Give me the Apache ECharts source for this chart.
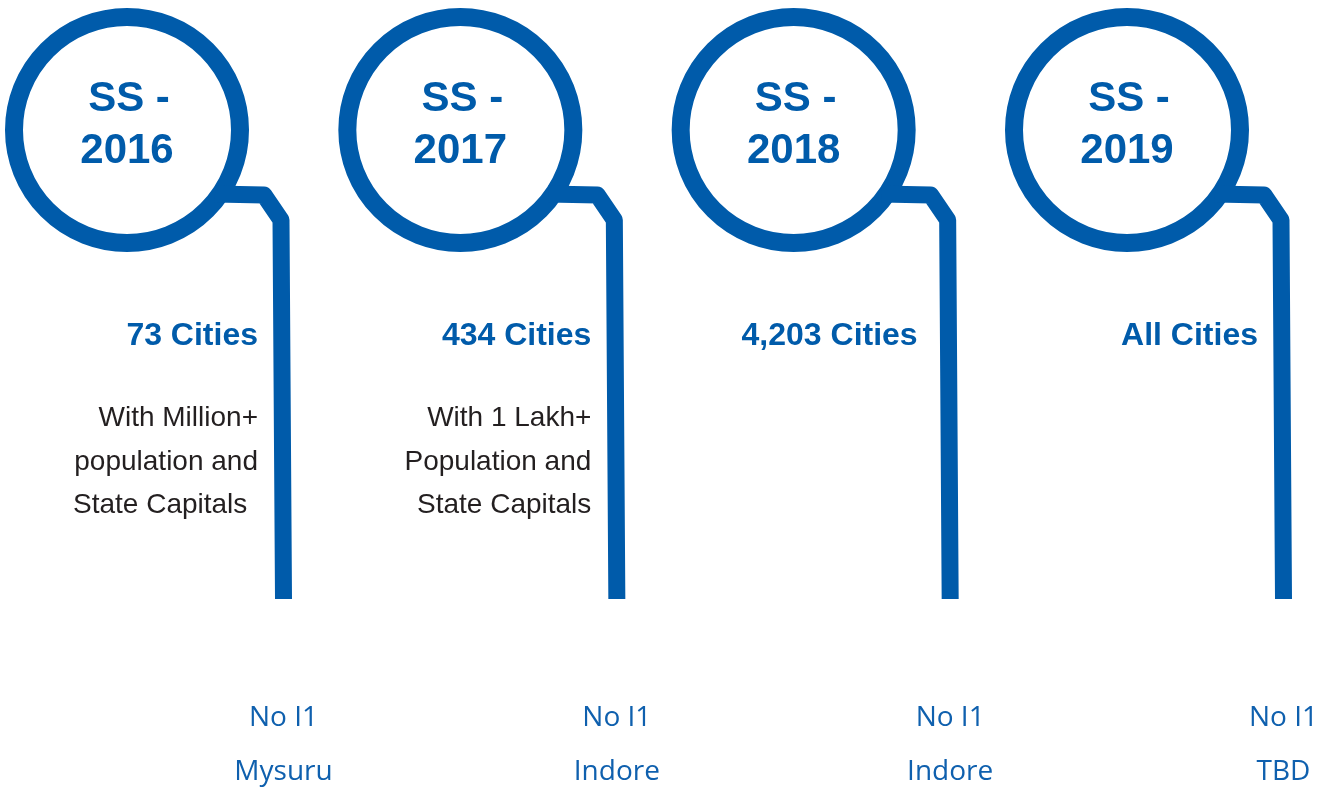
<!DOCTYPE html>
<html>
<head>
<meta charset="utf-8">
<title>Swachh Survekshan timeline</title>
<script src="https://cdn.jsdelivr.net/npm/echarts@6/dist/echarts.min.js"></script>
<style>
  html, body { margin: 0; padding: 0; background: #fff; }
  #chart { width: 1334px; height: 792px; }
</style>
</head>
<body>
<div id="chart"></div>
<script>
// survey editions
const circleTop = ['SS -', 'SS -', 'SS -', 'SS -'];
const years = ['2016', '2017', '2018', '2019'];
const coverage = ['73 Cities', '434 Cities', '4,203 Cities', 'All Cities'];
const criteria = [
  ['With Million+', 'population and', 'State Capitals'],
  ['With 1 Lakh+', 'Population and', 'State Capitals'],
  [],
  []
];
const rankLabel = ['No I1', 'No I1', 'No I1', 'No I1'];
const topCity = ['Mysuru', 'Indore', 'Indore', 'TBD'];

// layout / style
const BLUE = '#005baa';
const LABEL_BLUE = '#0f60ae';
const TEXT = '#231f20';
const justify = [true, false, false, false]; // first paragraph: last line flush left
const blockWidth = 185;
const headShift = [0, 0, -7, 0];
const headFont = 'bold 32px "Liberation Sans", Arial, sans-serif';
const circleFont = 'bold 42px "Liberation Sans", Arial, sans-serif';
const bodyFont = '28px "Liberation Sans", Arial, sans-serif';
const labelFont = '28px "Open Sans", "Noto Sans", sans-serif';

// text elements for one description block, right edge at xr
function criteriaBlock(lines, xr, justified) {
  const lineY = [418, 462, 505];
  return lines.map((line, k) => {
    const flushLeft = justified && k === lines.length - 1;
    return {
      type: 'text',
      style: {
        text: line,
        x: flushLeft ? xr - blockWidth : xr,
        y: lineY[k],
        align: flushLeft ? 'left' : 'right',
        verticalAlign: 'middle',
        font: bodyFont,
        fill: TEXT
      }
    };
  });
}

function renderItem(params, api) {
  const i = params.dataIndex;
  const cx = api.coord([api.value(0), 0])[0];
  const cy = 130;
  const barX = cx + 156.5;
  const textRight = cx + 131;
  const children = [
    {
      type: 'circle',
      shape: { cx: cx, cy: cy, r: 113 },
      style: { fill: 'none', stroke: BLUE, lineWidth: 18 }
    },
    {
      type: 'polyline',
      shape: { points: [[cx + 88, 194], [cx + 137, 195], [cx + 154, 220], [barX, 599]] },
      style: { fill: 'none', stroke: BLUE, lineWidth: 17, lineJoin: 'round', lineCap: 'butt' }
    },
    {
      type: 'text',
      style: { text: circleTop[i], x: cx + 2, y: 99, align: 'center', verticalAlign: 'middle', font: circleFont, fill: BLUE }
    },
    {
      type: 'text',
      style: { text: years[i], x: cx, y: 151, align: 'center', verticalAlign: 'middle', font: circleFont, fill: BLUE }
    },
    {
      type: 'text',
      style: { text: coverage[i], x: textRight + headShift[i], y: 336, align: 'right', verticalAlign: 'middle', font: headFont, fill: BLUE }
    },
    {
      type: 'text',
      style: { text: rankLabel[i], x: barX, y: 718, align: 'center', verticalAlign: 'middle', font: labelFont, fill: LABEL_BLUE }
    },
    {
      type: 'text',
      style: { text: topCity[i], x: barX, y: 772, align: 'center', verticalAlign: 'middle', font: labelFont, fill: LABEL_BLUE }
    }
  ].concat(criteriaBlock(criteria[i], textRight, justify[i]));
  return { type: 'group', children: children };
}

const chart = echarts.init(document.getElementById('chart'));
chart.setOption({
  animation: false,
  grid: { left: 127, right: 207, top: 0, bottom: 0 },
  xAxis: { type: 'category', data: years, boundaryGap: false, show: false },
  yAxis: { type: 'value', min: 0, max: 1, show: false },
  series: [{
    type: 'custom',
    renderItem: renderItem,
    data: years.map((y, i) => [i, 0]),
    silent: true
  }]
});
</script>
</body>
</html>
